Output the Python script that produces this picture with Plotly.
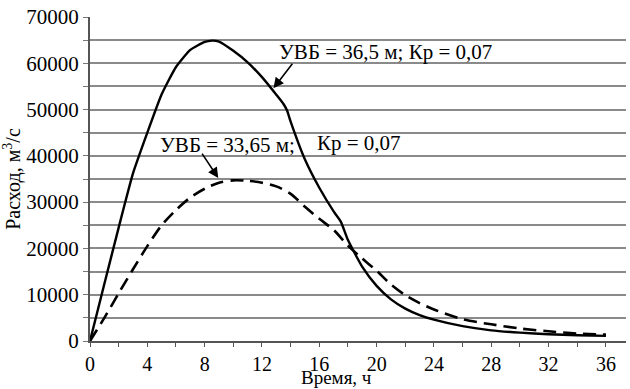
import plotly.graph_objects as go

# Solid curve: УВБ = 36,5 м
t_solid = [0, 1, 2, 3, 4, 5, 6, 7, 8, 8.5, 9, 10, 11, 12, 13, 13.5, 13.75, 14, 15, 16, 17, 17.5,
           18, 19, 20, 21, 22, 23, 24, 26, 28, 30, 32, 34, 36]
q_solid = [0, 12300, 24500, 36200, 45000, 53300, 59200, 62900, 64600, 64900, 64700, 62700,
           60200, 57000, 53200, 51200, 49800, 47400, 39200, 33100, 28000, 25800,
           21800, 16000, 11900, 9000, 7000, 5600, 4600, 3200, 2300, 1800, 1450, 1250, 1100]

# Dashed curve: УВБ = 33,65 м
t_dash = [0, 1, 2, 3, 4, 5, 6, 7, 8, 9, 10, 11, 12, 13, 14, 15, 16, 17, 18, 19, 20,
          21, 22, 23, 24, 26, 28, 30, 32, 34, 36]
q_dash = [0, 5000, 10300, 15500, 20500, 25000, 28300, 31000, 32900, 34200, 34700,
          34600, 34200, 33400, 31800, 29000, 26400, 24000, 20600, 17800, 15200,
          12200, 9900, 8200, 6800, 4700, 3600, 2700, 2100, 1600, 1400]

x_ticks = [0, 4, 8, 12, 16, 20, 24, 28, 32, 36]
y_ticks = [0, 10000, 20000, 30000, 40000, 50000, 60000, 70000]

FONT = "Liberation Serif"

fig = go.Figure()
fig.add_trace(go.Scatter(x=t_dash, y=q_dash, mode="lines",
                         line=dict(color="black", width=2.6, dash="13px,7px", shape="spline", smoothing=0.8),
                         showlegend=False))
fig.add_trace(go.Scatter(x=t_solid, y=q_solid, mode="lines",
                         line=dict(color="black", width=2.4, shape="spline", smoothing=0.5),
                         showlegend=False))

grid_col = "#8a8a8a"
fig.update_xaxes(range=[0, 37.4], tickvals=x_ticks, ticktext=[str(v) for v in x_ticks],
                 ticks="outside", ticklen=4, tickcolor="#555", showgrid=False,
                 showline=True, linecolor="#555", linewidth=2, zeroline=False,
                 minor=dict(dtick=2, tick0=0, ticks="outside", ticklen=4, tickcolor="#555", showgrid=False),
                 tickfont=dict(family=FONT, size=20, color="black"))
fig.update_yaxes(range=[0, 70000], tickvals=y_ticks, ticktext=[str(v) for v in y_ticks],
                 ticks="outside", ticklen=5, tickcolor="#777",
                 showgrid=True, gridcolor=grid_col, gridwidth=2,
                 showline=True, linecolor="#555", linewidth=2, zeroline=False,
                 minor=dict(dtick=5000, tick0=0, ticks="outside", ticklen=5, tickcolor="#777",
                            showgrid=True, gridcolor=grid_col, gridwidth=2),
                 tickfont=dict(family=FONT, size=21, color="black"),
                 title=dict(text="Расход, м<sup>3</sup>/с", font=dict(family=FONT, size=20, color="black"),
                            standoff=2))

ann_font = dict(family=FONT, size=21, color="black")
fig.update_layout(
    width=630, height=389,
    margin=dict(l=90, r=4, t=17, b=48),
    plot_bgcolor="white", paper_bgcolor="white",
    annotations=[
        dict(x=12.8, y=54600, ax=14.2, ay=60200, xref="x", yref="y", axref="x", ayref="y",
             showarrow=True, arrowhead=2, arrowsize=1.3, arrowwidth=1.6, arrowcolor="black", text=""),
        dict(x=20.6, y=62350, xref="x", yref="y", showarrow=False,
             text="УВБ = 36,5 м; Кр = 0,07", font=ann_font),
        dict(x=8.95, y=35200, ax=7.75, ay=40800, xref="x", yref="y", axref="x", ayref="y",
             showarrow=True, arrowhead=2, arrowsize=1.3, arrowwidth=1.6, arrowcolor="black", text=""),
        dict(x=9.6, y=42300, xref="x", yref="y", showarrow=False,
             text="УВБ = 33,65 м;", font=ann_font),
        dict(x=18.75, y=42700, xref="x", yref="y", showarrow=False,
             text="Кр = 0,07", font=ann_font),
        dict(x=(336 - 90) / (630 - 94), y=-(389 - 341) / (341 - 17), xref="paper", yref="paper",
             showarrow=False, text="Время, ч", font=dict(family=FONT, size=19, color="black"),
             yanchor="bottom", borderpad=0),
    ],
)

fig.write_html("out.html")
